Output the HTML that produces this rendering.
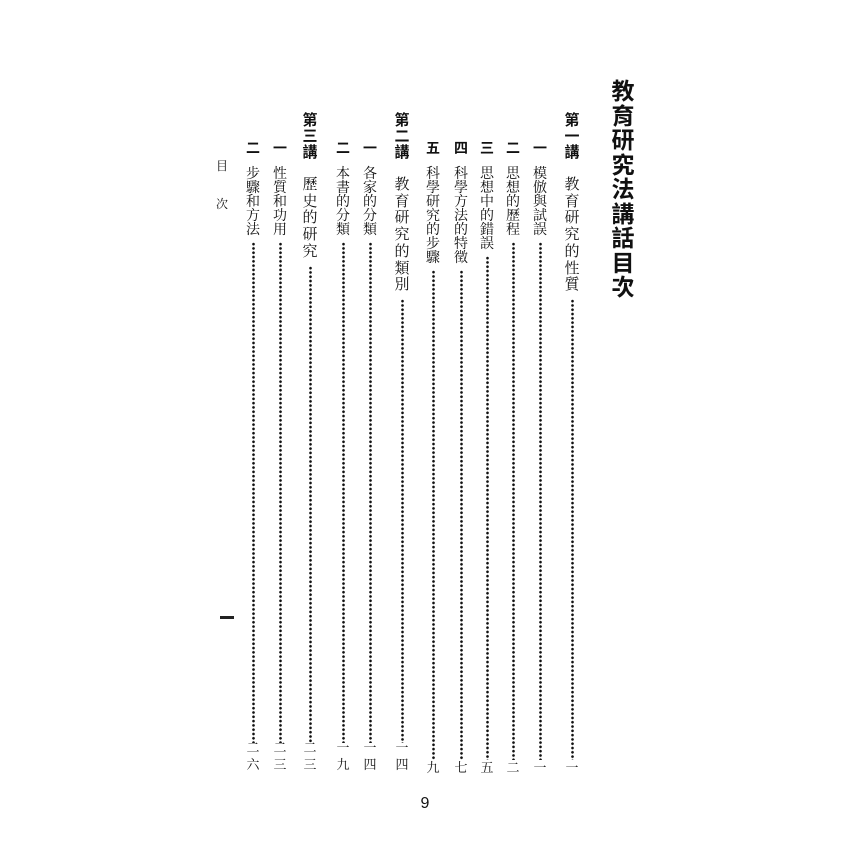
<!DOCTYPE html>
<html><head><meta charset="utf-8">
<style>
html,body{margin:0;padding:0;background:#fff;}
body{width:850px;height:850px;position:relative;overflow:hidden;font-family:"Liberation Serif","Noto Serif CJK SC","Noto Serif CJK TC",serif;color:#111;}
.c{position:absolute;text-align:center;line-height:1;}
.d{position:absolute;width:3px;background:radial-gradient(circle,#111 1.1px,transparent 1.6px) 0 0/3px 4.3px repeat-y;}
</style></head><body>
<div id="root"></div>
<script>
var R=document.getElementById('root');
function col(cx,top,txt,fs,pitch,bold,fam){
  for(var i=0;i<txt.length;i++){
    var e=document.createElement('div');e.className='c';
    e.style.left=(cx-fs/2-2)+'px';e.style.width=(fs+4)+'px';
    e.style.top=(top+i*pitch)+'px';e.style.fontSize=fs+'px';
    if(bold)e.style.fontWeight='bold';
    if(fam)e.style.fontFamily=fam;
    e.textContent=txt[i];R.appendChild(e);
  }
}
function dots(cx,y1,y2){
  var e=document.createElement('div');e.className='d';
  e.style.left=(cx-1.5)+'px';e.style.top=y1+'px';e.style.height=(y2-y1)+'px';R.appendChild(e);
}
function page(cx,p,bottom){
  var fs=13;var n=p.length;
  col(cx,bottom-n*17,p,fs,17,false);
}
var sans='"Liberation Sans","Noto Sans CJK TC","Noto Sans CJK SC",sans-serif';
col(623,80,"教育研究法講話目次",23,24.5,true,sans);
var L=[
 [572,"第一講","教育研究的性質","一",760],
 [402,"第二講","教育研究的類別","一四",760],
 [310,"第三講","歷史的研究","二三",760]
];
L.forEach(function(a){
  col(a[0],113,a[1],15,16,true,sans);
  col(a[0],178,a[2],15,16.7,false);
  var end=178+a[2].length*16.7+4;
  dots(a[0],end,a[0]==572?760:743);
  page(a[0],a[3],a[0]==572?778:775);
});
var E=[
 [540,"一","模倣與試誤","一"],
 [513,"二","思想的歷程","二"],
 [487,"三","思想中的錯誤","五"],
 [461,"四","科學方法的特徵","七"],
 [433,"五","科學研究的步驟","九"],
 [370,"一","各家的分類","一四"],
 [343,"二","本書的分類","一九"],
 [280,"一","性質和功用","二三"],
 [253,"二","步驟和方法","二六"]
];
E.forEach(function(a){
  col(a[0],141,a[1],14,14,true,sans);
  col(a[0],168,a[2],14,14,false);
  var end=168+a[2].length*14+4;
  var right=a[0]>420;
  dots(a[0],end,right?760:743);
  page(a[0],a[3],right?778:775);
});
col(222,160,"目",12,12,false);
col(222,198,"次",12,12,false);
</script>
<div class="c" style="left:220px;top:616px;width:14px;height:3px;background:#222;"></div>
<div class="c" style="left:415px;top:796px;width:20px;font-family:'Liberation Sans',sans-serif;font-size:16px;">9</div>
</body></html>
